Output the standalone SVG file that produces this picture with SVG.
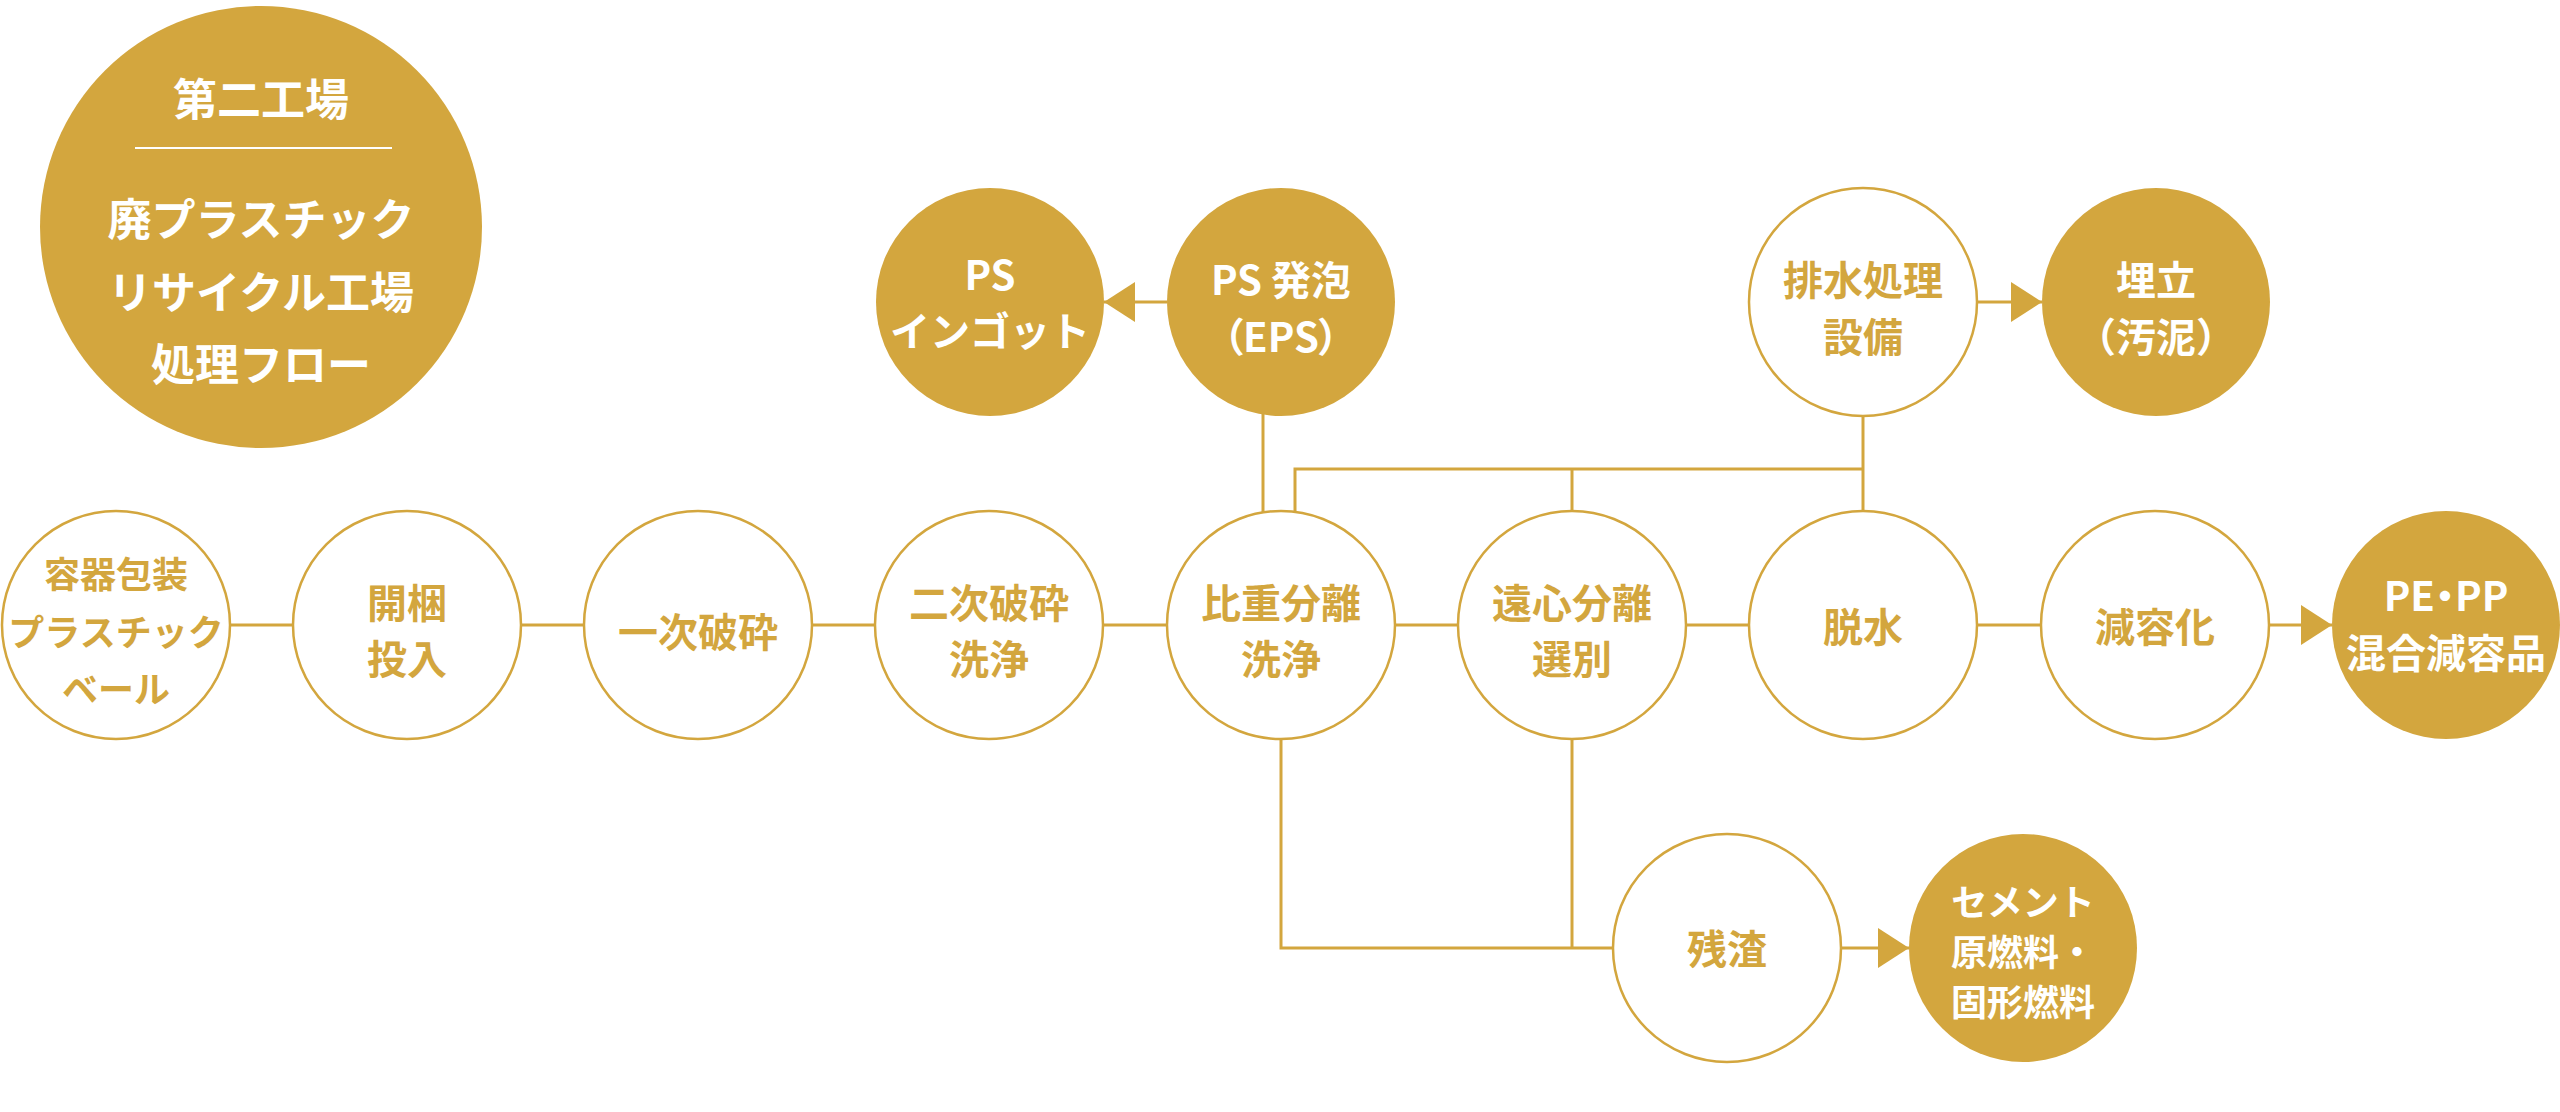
<svg xmlns="http://www.w3.org/2000/svg" width="2560" height="1112" viewBox="0 0 2560 1112">
<style>
.bg{fill:#ffffff}
.open{fill:#ffffff;stroke:#D3A63E;stroke-width:2.5}
.solid{fill:#D3A63E}
.lbl{font-family:"Noto Sans CJK JP","Noto Sans",sans-serif;font-weight:700;text-anchor:middle;dominant-baseline:central}
.g{fill:#D3A63E}
.w{fill:#ffffff}
.f40{font-size:40px}
.f36{font-size:36px}
.f44{font-size:44px}
.palt{font-feature-settings:"palt"}
.conn{fill:none;stroke:#D3A63E;stroke-width:3}
</style>
<defs>
<marker id="arr" markerUnits="userSpaceOnUse" markerWidth="32" markerHeight="40" refX="31" refY="20" orient="auto" viewBox="0 0 32 40">
<path d="M0,0 L31,20 L0,40 Z" fill="#D3A63E"/>
</marker>
</defs>
<rect class="bg" x="0" y="0" width="2560" height="1112"/>

<g id="connectors">
<line class="conn" x1="230" y1="625" x2="293" y2="625"/>
<line class="conn" x1="521" y1="625" x2="584" y2="625"/>
<line class="conn" x1="812" y1="625" x2="875" y2="625"/>
<line class="conn" x1="1103" y1="625" x2="1167" y2="625"/>
<line class="conn" x1="1395" y1="625" x2="1458" y2="625"/>
<line class="conn" x1="1686" y1="625" x2="1749" y2="625"/>
<line class="conn" x1="1977" y1="625" x2="2041" y2="625"/>
<line class="conn" x1="2269" y1="625" x2="2332" y2="625" marker-end="url(#arr)"/>
<line class="conn" x1="1167" y1="302" x2="1104" y2="302" marker-end="url(#arr)"/>
<line class="conn" x1="1977" y1="302" x2="2042" y2="302" marker-end="url(#arr)"/>
<line class="conn" x1="1841" y1="948" x2="1909" y2="948" marker-end="url(#arr)"/>
<line class="conn" x1="1263" y1="414" x2="1263" y2="513"/>
<path class="conn" d="M1295,513 V469 H1863"/>
<path class="conn" d="M1572,469 V511"/>
<path class="conn" d="M1863,416 V511"/>
<path class="conn" d="M1281,739 V948 H1613"/>
<path class="conn" d="M1572,739 V948"/>
</g>

<g id="title">
<circle class="solid" cx="261" cy="227" r="221"/>
<text class="lbl w f44" x="261" y="97">第二工場</text>
<line x1="135" y1="148" x2="392" y2="148" stroke="#ffffff" stroke-width="2"/>
<text class="lbl w f44" x="261" y="217">廃プラスチック</text>
<text class="lbl w f44" x="261" y="290">リサイクル工場</text>
<text class="lbl w f44" x="261" y="362">処理フロー</text>
</g>

<g id="n-bale">
<circle class="open" cx="116" cy="625" r="114"/>
<text class="lbl g f36" x="116" y="572">容器包装</text>
<text class="lbl g f36" x="116" y="630">プラスチック</text>
<text class="lbl g f36" x="116" y="687">ベール</text>
</g>
<g id="n-open">
<circle class="open" cx="407" cy="625" r="114"/>
<text class="lbl g f40" x="407" y="601">開梱</text>
<text class="lbl g f40" x="407" y="657">投入</text>
</g>
<g id="n-crush1">
<circle class="open" cx="698" cy="625" r="114"/>
<text class="lbl g f40" x="698" y="630">一次破砕</text>
</g>
<g id="n-crush2">
<circle class="open" cx="989" cy="625" r="114"/>
<text class="lbl g f40" x="989" y="601">二次破砕</text>
<text class="lbl g f40" x="989" y="657">洗浄</text>
</g>
<g id="n-gravity">
<circle class="open" cx="1281" cy="625" r="114"/>
<text class="lbl g f40" x="1281" y="601">比重分離</text>
<text class="lbl g f40" x="1281" y="657">洗浄</text>
</g>
<g id="n-centrifugal">
<circle class="open" cx="1572" cy="625" r="114"/>
<text class="lbl g f40" x="1572" y="601">遠心分離</text>
<text class="lbl g f40" x="1572" y="657">選別</text>
</g>
<g id="n-dewater">
<circle class="open" cx="1863" cy="625" r="114"/>
<text class="lbl g f40" x="1863" y="625">脱水</text>
</g>
<g id="n-reduce">
<circle class="open" cx="2155" cy="625" r="114"/>
<text class="lbl g f40" x="2155" y="625">減容化</text>
</g>
<g id="n-pepp">
<circle class="solid" cx="2446" cy="625" r="114"/>
<text class="lbl w f40 palt" x="2446" y="594">PE・PP</text>
<text class="lbl w f40" x="2446" y="651">混合減容品</text>
</g>
<g id="n-ingot">
<circle class="solid" cx="990" cy="302" r="114"/>
<text class="lbl w f40" x="990" y="273">PS</text>
<text class="lbl w f40" x="990" y="329">インゴット</text>
</g>
<g id="n-eps">
<circle class="solid" cx="1281" cy="302" r="114"/>
<text class="lbl w f40" x="1281" y="278">PS 発泡</text>
<text class="lbl w f40 palt" x="1281" y="335">（EPS）</text>
</g>
<g id="n-wastewater">
<circle class="open" cx="1863" cy="302" r="114"/>
<text class="lbl g f40" x="1863" y="278">排水処理</text>
<text class="lbl g f40" x="1863" y="335">設備</text>
</g>
<g id="n-landfill">
<circle class="solid" cx="2156" cy="302" r="114"/>
<text class="lbl w f40" x="2156" y="278">埋立</text>
<text class="lbl w f40" x="2156" y="335">（汚泥）</text>
</g>
<g id="n-residue">
<circle class="open" cx="1727" cy="948" r="114"/>
<text class="lbl g f40" x="1727" y="947">残渣</text>
</g>
<g id="n-cement">
<circle class="solid" cx="2023" cy="948" r="114"/>
<text class="lbl w f36" x="2023" y="900">セメント</text>
<text class="lbl w f36" x="2023" y="950">原燃料・</text>
<text class="lbl w f36" x="2023" y="1000">固形燃料</text>
</g>
</svg>
